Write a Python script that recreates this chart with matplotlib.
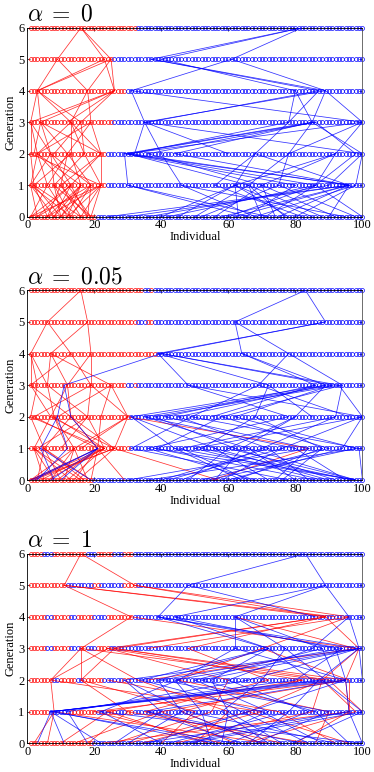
import matplotlib
matplotlib.use("Agg")
import matplotlib.pyplot as plt

plt.rcParams['mathtext.fontset'] = 'cm'

TITLES = [r"$\alpha\;=\;0$", r"$\alpha\;=\;0.05$", r"$\alpha\;=\;1$"]
X_TICKS = [0, 20, 40, 60, 80, 100]
Y_TICKS = [0, 1, 2, 3, 4, 5, 6]
N_INDIVIDUALS = 100
N_GENERATIONS = 7

# red individuals per generation (index = generation), given as inclusive ranges
P1_RED_RANGES = [[(1, 20)], [(1, 23)], [(1, 23)], [(1, 25)], [(1, 29)], [(1, 25)], [(1, 32)]]
P2_RED_RANGES = [[(1, 19)], [(1, 30)], [(1, 30)], [(1, 29), (32, 32)], [(1, 38)],
                 [(1, 32), (36, 37)], [(1, 34), (37, 37)]]
P3_RED_RANGES = [[(1, 19)],
                 [(1, 6), (13, 20), (24, 26), (30, 31)],
                 [(1, 7), (10, 14), (17, 22), (29, 30)],
                 [(1, 5), (8, 12), (16, 17), (21, 24)],
                 [(1, 5), (8, 12), (15, 19), (24, 31)],
                 [(1, 11), (20, 21), (29, 32)],
                 [(1, 4), (8, 17), (21, 25), (29, 31)]]

# edges: (lower generation, individual in lower gen, individual in upper gen)
P1_RED_EDGES = [
    (5, 9, 16), (5, 25, 16), (5, 23, 16),
    (4, 3, 9), (4, 3, 23), (4, 3, 25), (4, 18, 25), (4, 26, 23), (4, 26, 25), (4, 18, 9),
    (3, 1, 3), (3, 4, 3), (3, 13, 3), (3, 16, 3), (3, 19, 18), (3, 13, 18), (3, 1, 26),
    (3, 16, 26), (3, 4, 26), (3, 12, 26),
    (2, 1, 1), (2, 3, 1), (2, 7, 4), (2, 2, 4), (2, 12, 4), (2, 22, 4), (2, 3, 13), (2, 13, 13),
    (2, 22, 13), (2, 8, 16), (2, 17, 16), (2, 22, 19), (2, 12, 19), (2, 3, 19), (2, 7, 1), (2, 17, 13),
    (1, 1, 3), (1, 2, 1), (1, 6, 3), (1, 8, 7), (1, 10, 12), (1, 13, 7), (1, 16, 13), (1, 19, 12),
    (1, 22, 22), (1, 22, 17), (1, 6, 12), (1, 10, 22), (1, 2, 13), (1, 12, 3), (1, 16, 3),
    (1, 19, 7), (1, 8, 17), (1, 22, 1), (1, 13, 22), (1, 1, 7),
    (0, 1, 6), (0, 3, 1), (0, 6, 10), (0, 8, 13), (0, 10, 2), (0, 12, 16), (0, 13, 8), (0, 16, 22),
    (0, 18, 10), (0, 19, 22), (0, 1, 13), (0, 3, 19), (0, 6, 22), (0, 8, 1), (0, 10, 16),
    (0, 12, 6), (0, 13, 19), (0, 16, 2), (0, 18, 13), (0, 19, 8), (0, 1, 22), (0, 6, 2),
    (0, 10, 8), (0, 12, 22), (0, 16, 10), (0, 18, 19), (0, 3, 13), (0, 8, 16), (0, 13, 1),
    (0, 19, 12), (0, 6, 16), (0, 10, 19),
]
P1_BLUE_EDGES = [
    (5, 37, 82), (5, 40, 82), (5, 61, 82),
    (4, 87, 37), (4, 89, 37), (4, 89, 61), (4, 80, 40), (4, 31, 61),
    (3, 35, 89), (3, 36, 87), (3, 78, 80), (3, 85, 89), (3, 100, 89), (3, 100, 31),
    (3, 85, 80), (3, 78, 87), (3, 35, 31),
    (2, 29, 85), (2, 30, 86), (2, 31, 78), (2, 30, 100), (2, 40, 35), (2, 32, 35), (2, 68, 78),
    (2, 78, 85), (2, 92, 100), (2, 98, 86), (2, 100, 85), (2, 100, 35), (2, 44, 85), (2, 36, 86),
    (2, 78, 100), (2, 60, 35),
    (1, 30, 29), (1, 46, 40), (1, 62, 68), (1, 66, 78), (1, 70, 92), (1, 86, 98), (1, 96, 29),
    (1, 96, 31), (1, 96, 44), (1, 86, 30), (1, 96, 68), (1, 90, 100), (1, 75, 78), (1, 62, 92),
    (1, 70, 36), (1, 80, 29), (1, 56, 68), (1, 98, 100), (1, 66, 30), (1, 86, 92),
    (0, 24, 96), (0, 30, 96), (0, 36, 90), (0, 42, 86), (0, 45, 62), (0, 50, 66), (0, 56, 70),
    (0, 58, 96), (0, 63, 62), (0, 65, 80), (0, 68, 46), (0, 70, 66), (0, 72, 30), (0, 75, 96),
    (0, 78, 62), (0, 80, 98), (0, 82, 56), (0, 88, 66), (0, 92, 70), (0, 95, 46), (0, 98, 75),
    (0, 100, 86), (0, 60, 86), (0, 66, 30), (0, 71, 86), (0, 85, 62), (0, 52, 75), (0, 40, 62),
    (0, 62, 96), (0, 74, 70), (0, 90, 96), (0, 77, 66), (0, 68, 98),
]

P2_RED_EDGES = [
    (5, 6, 16), (5, 18, 16),
    (4, 1, 6), (4, 7, 18), (4, 19, 18), (4, 13, 6),
    (3, 1, 1), (3, 3, 1), (3, 6, 7), (3, 12, 7), (3, 19, 19), (3, 25, 7), (3, 19, 13),
    (3, 1, 13), (3, 12, 19), (3, 6, 1),
    (2, 1, 3), (2, 7, 1), (2, 8, 6), (2, 13, 12), (2, 18, 19), (2, 30, 19), (2, 30, 25),
    (2, 7, 12), (2, 13, 1), (2, 18, 6), (2, 22, 25), (2, 2, 19), (2, 9, 25),
    (1, 2, 7), (1, 5, 1), (1, 14, 8), (1, 21, 13), (1, 23, 18), (1, 26, 30), (1, 21, 2),
    (1, 16, 30), (1, 5, 13), (1, 26, 7), (1, 23, 1), (1, 10, 18), (1, 14, 30), (1, 21, 22),
    (1, 12, 8), (1, 3, 18), (1, 26, 13), (1, 23, 8), (1, 84, 30),
    (0, 1, 21), (0, 1, 23), (0, 1, 14), (0, 1, 26), (0, 3, 5), (0, 5, 2), (0, 7, 14), (0, 9, 21),
    (0, 10, 5), (0, 12, 23), (0, 13, 2), (0, 15, 26), (0, 17, 5), (0, 18, 14), (0, 19, 21),
    (0, 2, 26), (0, 6, 23), (0, 8, 2), (0, 11, 14), (0, 14, 21), (0, 16, 2), (0, 4, 23),
    (0, 19, 5), (0, 57, 26), (0, 55, 84), (0, 29, 21),
]
P2_BLUE_EDGES = [
    (5, 62, 83), (5, 89, 83),
    (4, 39, 89), (4, 40, 89), (4, 64, 62), (4, 78, 62),
    (3, 11, 40), (3, 48, 39), (3, 69, 78), (3, 89, 64), (3, 91, 40), (3, 94, 78), (3, 86, 64),
    (3, 93, 40), (3, 72, 39),
    (2, 13, 11), (2, 31, 89), (2, 35, 91), (2, 41, 86), (2, 49, 69), (2, 58, 94), (2, 68, 72),
    (2, 80, 89), (2, 92, 94), (2, 100, 93), (2, 100, 48), (2, 78, 48), (2, 45, 89), (2, 55, 86),
    (2, 38, 93), (2, 62, 91), (2, 85, 72), (2, 96, 69), (2, 9, 11),
    (1, 4, 9), (1, 21, 13), (1, 12, 9), (1, 31, 49), (1, 39, 58), (1, 44, 31), (1, 52, 68),
    (1, 60, 80), (1, 66, 35), (1, 70, 92), (1, 76, 100), (1, 84, 41), (1, 90, 58), (1, 94, 100),
    (1, 99, 49), (1, 46, 92), (1, 56, 31), (1, 64, 80), (1, 72, 45), (1, 80, 35), (1, 88, 68),
    (1, 98, 62), (1, 36, 78), (1, 50, 100), (1, 62, 38),
    (0, 1, 21), (0, 2, 21), (0, 8, 4), (0, 10, 21), (0, 3, 12), (0, 19, 4), (0, 7, 21),
    (0, 98, 60), (0, 98, 66), (0, 98, 44), (0, 98, 38), (0, 97, 52), (0, 30, 84), (0, 36, 99),
    (0, 42, 76), (0, 46, 70), (0, 52, 90), (0, 56, 64), (0, 60, 94), (0, 64, 44), (0, 68, 36),
    (0, 72, 56), (0, 76, 88), (0, 80, 66), (0, 84, 72), (0, 88, 50), (0, 92, 62), (0, 95, 80),
    (0, 100, 99), (0, 58, 76), (0, 66, 46), (0, 74, 84), (0, 86, 38), (0, 48, 60), (0, 40, 72),
    (0, 54, 98), (0, 62, 88), (0, 78, 31), (0, 90, 56),
]

P3_RED_EDGES = [
    (5, 11, 16), (5, 32, 16),
    (4, 89, 11), (4, 89, 32), (4, 96, 32), (4, 92, 11), (4, 31, 11),
    (3, 16, 31), (3, 24, 89), (3, 26, 89), (3, 98, 31), (3, 99, 89), (3, 70, 96), (3, 48, 89),
    (3, 98, 62), (3, 36, 96),
    (2, 16, 16), (2, 7, 24), (2, 16, 26), (2, 95, 26), (2, 88, 99), (2, 82, 24), (2, 95, 99),
    (2, 60, 24), (2, 45, 70), (2, 72, 48), (2, 88, 16), (2, 36, 98), (2, 90, 26), (2, 7, 16),
    (2, 33, 16), (2, 96, 70),
    (1, 8, 7), (1, 40, 95), (1, 96, 95), (1, 98, 88), (1, 24, 82), (1, 30, 16), (1, 55, 60),
    (1, 70, 7), (1, 85, 88), (1, 60, 33), (1, 46, 82), (1, 20, 95), (1, 90, 45), (1, 35, 72),
    (1, 75, 24), (1, 100, 90), (1, 50, 16), (1, 66, 88), (1, 96, 96),
    (0, 2, 8), (0, 6, 8), (0, 10, 24), (0, 14, 40), (0, 18, 30), (0, 22, 96), (0, 26, 55),
    (0, 34, 70), (0, 44, 85), (0, 50, 60), (0, 58, 20), (0, 65, 98), (0, 70, 46), (0, 76, 35),
    (0, 80, 96), (0, 86, 90), (0, 92, 75), (0, 100, 100), (0, 30, 66), (0, 40, 50), (0, 54, 24),
    (0, 62, 40), (0, 72, 8), (0, 96, 66), (0, 84, 30),
]
P3_BLUE_EDGES = [
    (5, 89, 83), (5, 48, 83),
    (4, 39, 48), (4, 96, 89), (4, 62, 89), (4, 44, 89), (4, 86, 48),
    (3, 62, 62), (3, 72, 39), (3, 72, 44), (3, 99, 96), (3, 85, 96), (3, 99, 39), (3, 77, 62),
    (3, 92, 44), (3, 94, 39), (3, 88, 62),
    (2, 29, 99), (2, 39, 72), (2, 44, 99), (2, 55, 72), (2, 60, 85), (2, 87, 99), (2, 95, 62),
    (2, 95, 92), (2, 89, 77), (2, 40, 94), (2, 50, 88), (2, 66, 99), (2, 34, 72), (2, 45, 62),
    (2, 80, 94), (2, 70, 77), (2, 52, 99), (2, 100, 99), (2, 92, 88), (2, 85, 72),
    (1, 7, 87), (1, 7, 95), (1, 7, 92), (1, 7, 89), (1, 8, 80), (1, 12, 66), (1, 40, 29),
    (1, 46, 39), (1, 52, 44), (1, 60, 55), (1, 66, 95), (1, 72, 50), (1, 78, 87), (1, 84, 60),
    (1, 90, 40), (1, 96, 95), (1, 100, 88), (1, 58, 70), (1, 64, 45), (1, 48, 29), (1, 86, 52),
    (1, 70, 34), (1, 36, 95), (1, 22, 45),
    (0, 3, 7), (0, 11, 7), (0, 18, 12), (0, 22, 7), (0, 26, 40), (0, 30, 46), (0, 36, 66),
    (0, 42, 78), (0, 46, 96), (0, 50, 72), (0, 55, 52), (0, 60, 84), (0, 64, 36), (0, 68, 90),
    (0, 72, 58), (0, 76, 60), (0, 79, 100), (0, 84, 64), (0, 88, 70), (0, 92, 48), (0, 96, 86),
    (0, 100, 96), (0, 100, 22), (0, 62, 7), (0, 56, 8), (0, 40, 22), (0, 34, 96), (0, 48, 100),
    (0, 70, 46), (0, 82, 36), (0, 66, 78), (0, 58, 60),
]

RED = '#ff0000'
BLUE = '#0000ff'

PANELS = [
    (TITLES[0], P1_RED_RANGES, P1_RED_EDGES, P1_BLUE_EDGES),
    (TITLES[1], P2_RED_RANGES, P2_RED_EDGES, P2_BLUE_EDGES),
    (TITLES[2], P3_RED_RANGES, P3_RED_EDGES, P3_BLUE_EDGES),
]

AX_RECTS = [
    [0.073, 0.7193, 0.896, 0.2448],
    [0.073, 0.3782, 0.896, 0.2458],
    [0.073, 0.0372, 0.896, 0.2456],
]

fig = plt.figure(figsize=(3.74, 7.72), dpi=100)
serif = ['Liberation Serif', 'DejaVu Serif']

for (title, red_ranges, red_edges, blue_edges), rect in zip(PANELS, AX_RECTS):
    ax = fig.add_axes(rect)
    xs_all = list(range(1, N_INDIVIDUALS + 1))
    for g in range(N_GENERATIONS):
        reds = set()
        for a, b in red_ranges[g]:
            reds.update(range(a, b + 1))
        rx = [x for x in xs_all if x in reds]
        bx = [x for x in xs_all if x not in reds]
        ax.plot(rx, [g] * len(rx), linestyle='none', marker='o', markersize=2.9,
                markerfacecolor='none', markeredgecolor=RED, markeredgewidth=0.55,
                alpha=0.9, clip_on=False, zorder=2)
        ax.plot(bx, [g] * len(bx), linestyle='none', marker='o', markersize=2.9,
                markerfacecolor='none', markeredgecolor=BLUE, markeredgewidth=0.55,
                alpha=0.9, clip_on=False, zorder=2)
    for g, xl, xh in red_edges:
        ax.plot([xl, xh], [g, g + 1], color=RED, lw=0.55, alpha=0.8, zorder=3)
    for g, xl, xh in blue_edges:
        ax.plot([xl, xh], [g, g + 1], color=BLUE, lw=0.55, alpha=0.8, zorder=3)
    ax.set_xlim(0, 100)
    ax.set_ylim(0, 6)
    ax.set_xticks(X_TICKS)
    ax.set_yticks(Y_TICKS)
    ax.tick_params(direction='in', length=2, width=0.5, labelsize=9, pad=2,
                   top=True, right=True)
    for lab in ax.get_xticklabels() + ax.get_yticklabels():
        lab.set_family(serif)
    for sp in ax.spines.values():
        sp.set_linewidth(0.6)
    ax.spines['right'].set_color('#555555')
    ax.set_xlabel('Individual', fontsize=9, family=serif, labelpad=0)
    ax.set_ylabel('Generation', fontsize=9, family=serif, labelpad=1)
    ax.set_title(title, loc='left', fontsize=17, pad=5, x=0.0)

fig.savefig('out.png', dpi=100)
